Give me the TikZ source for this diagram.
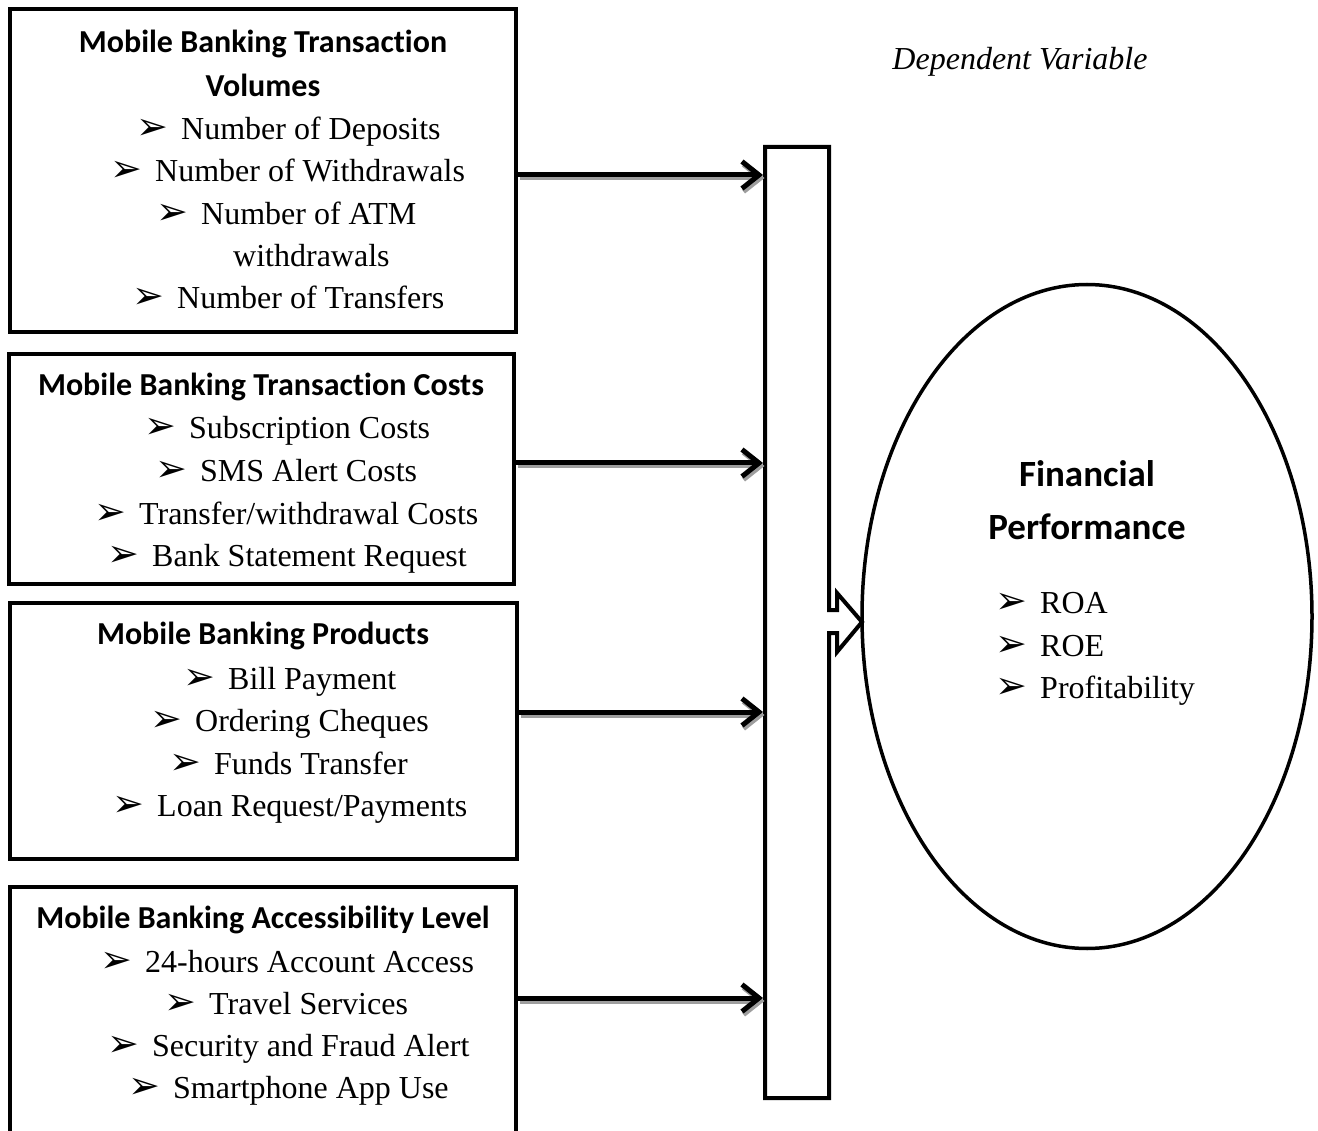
\documentclass[tikz,border=0pt]{standalone}
\usepackage{fontspec}
\setmainfont{Liberation Serif}
\newfontfamily\headfont[Ligatures=NoCommon,Contextuals=NoAlternate]{Carlito}
\newfontfamily\bulfont{DejaVu Sans}
\usetikzlibrary{arrows.meta,shapes.geometric,calc}
\newcommand\bul{{\bulfont\fontsize{38}{38}\selectfont ➢}}
\newcommand\itm[1]{\makebox[45pt][l]{\bul}#1}
\begin{document}
\begin{tikzpicture}[x=1pt,y=-1pt,
  box/.style={draw, line width=4pt, inner sep=0pt, outer sep=2pt},
  head/.style={font=\headfont\bfseries\fontsize{32}{38}\selectfont, inner sep=0pt, anchor=base},
  bighead/.style={font=\headfont\bfseries\fontsize{37}{44}\selectfont, inner sep=0pt, anchor=base},
  item/.style={font=\fontsize{32}{38}\selectfont, inner sep=0pt, anchor=base west},
  arr/.style={line width=5pt, -{Straight Barb[length=17pt,width=27pt]}},
  arrshadow/.style={line width=5pt, color=black!38, -{Straight Barb[length=17pt,width=27pt]}}
]
\useasboundingbox (0,0) rectangle (1318,1131);
\clip (0,0) rectangle (1318,1131);
\fill[white] (0,0) rectangle (1318,1131);

% boxes
\node[box, minimum width=506.5pt, minimum height=322.5pt] (b1) at (262.75,170.75) {};
\node[box, minimum width=505pt, minimum height=230pt] (b2) at (261.5,469) {};
\node[box, minimum width=507pt, minimum height=256pt] (b3) at (263.5,731) {};
\node[box, minimum width=506pt, minimum height=258pt] (b4) at (263,1016) {};

% box 1 text
\node[head] (h1a) at (263,53) {Mobile Banking Transaction};
\node[head] (h1b) at (263,97) {Volumes};
\node[item] (i11) at (136,140) {\itm{Number of Deposits}};
\node[item] (i12) at (110,182) {\itm{Number of Withdrawals}};
\node[item] (i13) at (156,225) {\itm{Number of ATM}};
\node[item] (i14) at (233,267) {withdrawals};
\node[item] (i15) at (132,309) {\itm{Number of Transfers}};

% box 2 text
\node[head] (h2) at (261,396) {Mobile Banking Transaction Costs};
\node[item] (i21) at (144,439) {\itm{Subscription Costs}};
\node[item] (i22) at (155,482) {\itm{SMS Alert Costs}};
\node[item] (i23) at (94,524) {\itm{Transfer/withdrawal Costs}};
\node[item] (i24) at (107,566) {\itm{Bank Statement Request}};

% box 3 text
\node[head] (h3) at (263,644) {Mobile Banking Products};
\node[item] (i31) at (183,689) {\itm{Bill Payment}};
\node[item] (i32) at (150,731) {\itm{Ordering Cheques}};
\node[item] (i33) at (169,774) {\itm{Funds Transfer}};
\node[item] (i34) at (112,816) {\itm{Loan Request/Payments}};

% box 4 text
\node[head] (h4) at (263,928) {Mobile Banking Accessibility Level};
\node[item] (i41) at (100,972) {\itm{24-hours Account Access}};
\node[item] (i42) at (164,1014) {\itm{Travel Services}};
\node[item] (i43) at (107,1056) {\itm{Security and Fraud Alert}};
\node[item] (i44) at (128,1098) {\itm{Smartphone App Use}};

% bar with notch arrow
\node[inner sep=0pt, outer sep=2pt, minimum width=64pt, minimum height=951pt] (bar) at (797,622.5) {};
\draw[line width=4pt, line join=miter] (765,147) -- (829,147) -- (829,610) -- (837,610) -- (837,593)
  -- (862,622) -- (837,652) -- (837,633) -- (829,633) -- (829,1098) -- (765,1098) -- cycle;

% ellipse
\node[draw, ellipse, line width=3.5pt, minimum width=450pt, minimum height=664pt, inner sep=0pt] (fp) at (1087,616.5) {};
\node[bighead] (fp1) at (1087,487) {Financial};
\node[bighead] (fp2) at (1087,539) {Performance};
\node[item] (r1) at (995,613) {\itm{ROA}};
\node[item] (r2) at (995,656) {\itm{ROE}};
\node[item] (r3) at (995,698) {\itm{Profitability}};

\node[font=\itshape\fontsize{32}{38}\selectfont, inner sep=0pt, anchor=base] (dv) at (1020,70) {Dependent Variable};

% arrows
\coordinate (a1) at (0,175);
\coordinate (a2) at (0,463);
\coordinate (a3) at (0,712);
\coordinate (a4) at (0,998);
\foreach \b/\a in {b1/a1,b2/a2,b3/a3,b4/a4}{
  \draw[arrshadow] ($(\b.east |- \a)+(1.5,3)$) -- ($(bar.west |- \a)+(1.5,3)$);
  \draw[arr] (\b.east |- \a) -- (bar.west |- \a);
}
\end{tikzpicture}
\end{document}
